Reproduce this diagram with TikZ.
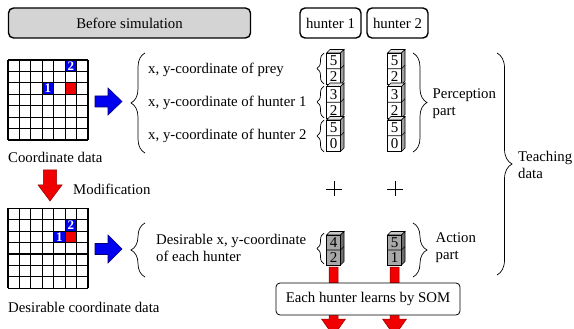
\documentclass[tikz,border=0pt]{standalone}
\usepackage{fontspec}
\setmainfont{Liberation Serif}
\usetikzlibrary{decorations.pathreplacing,calc}
\definecolor{boxgray}{HTML}{D4D4D4}
\definecolor{hblue}{HTML}{0000F0}
\definecolor{hnavy}{HTML}{000070}
\definecolor{hred}{HTML}{F00000}
\definecolor{dred}{HTML}{900000}
\definecolor{ptop}{HTML}{E6E6E6}
\definecolor{pside}{HTML}{A0A0A0}
\definecolor{afront}{HTML}{A8A8A8}
\definecolor{atop}{HTML}{C8C8C8}
\definecolor{aside}{HTML}{6E6E6E}
\newcommand{\cubepair}[9]{%
 \filldraw[fill=#8, line width=0.6pt] (#1,#2) -- ++(3.5,-3.5) -- ++(14,0) -- ++(-3.5,3.5) -- cycle;
 \filldraw[fill=#7, line width=0.6pt] ({#1+14},#2) -- ++(3.5,-3.5) -- ++(0,#3) -- ++(-3.5,3.5) -- cycle;
 \filldraw[fill=#6, line width=0.6pt] (#1,#2) rectangle ++(14,#3);
 \draw[line width=0.6pt] (#1,{#2+#3/2}) -- ++(14,0) -- ++(3.5,-3.5);
 \node[digit] (#9a) at ({#1+7},{#2+#3/4}) {#4};
 \node[digit] (#9b) at ({#1+7},{#2+3*#3/4}) {#5};
}
\begin{document}
\begin{tikzpicture}[x=1pt,y=-1pt,
  font=\fontsize{14.8}{17}\selectfont,
  tbox/.style={draw, line width=1.4pt, rounded corners=5pt, inner sep=0pt},
  txt/.style={anchor=west, inner sep=0pt},
  digit/.style={inner sep=0pt, font=\fontsize{15}{15}\selectfont},
  cellnum/.style={inner sep=0pt, text=white, font=\fontsize{13}{13}\selectfont\bfseries},
  gridline/.style={line width=1.1pt},
  brc/.style={decorate, decoration={brace, amplitude=#1}, line width=0.7pt},
  bluearrow/.style={fill=hblue, draw=hnavy, line width=0.6pt},
  redarrow/.style={fill=hred, draw=dred, line width=0.5pt}]
\useasboundingbox (0,0) rectangle (574,329);
\clip (0,0) rectangle (574,329);

% header boxes
\node[tbox, fill=boxgray, minimum width=242pt, minimum height=30pt] (before) at (129.5,23) {Before simulation};
\node[tbox, fill=white, minimum width=61pt, minimum height=30pt] (h1) at (330.5,23) {hunter 1};
\node[tbox, fill=white, minimum width=61pt, minimum height=30pt] (h2) at (397.5,23) {hunter 2};

% grid 1
\def\s{11.4286}
\begin{scope}[shift={(8,60)}]
  \fill[hblue] (5*\s,0) rectangle (6*\s,\s);
  \fill[hblue] (3*\s,2*\s) rectangle (4*\s,3*\s);
  \fill[hred] (5*\s,2*\s) rectangle (6*\s,3*\s);
  \foreach \i in {0,...,7} {
    \draw[gridline] ({\i*\s},0) -- ({\i*\s},80);
    \draw[gridline] (0,{\i*\s}) -- (80,{\i*\s});
  }
  \node[cellnum] (ga2) at (5.5*\s,0.5*\s) {2};
  \node[cellnum] (ga1) at (3.5*\s,2.5*\s) {1};
\end{scope}
\node[txt] (cd) at (8,157) {Coordinate data};

% grid 2
\begin{scope}[shift={(8,208.3)}]
  \fill[hblue] (5*\s,\s) rectangle (6*\s,2*\s);
  \fill[hblue] (4*\s,2*\s) rectangle (5*\s,3*\s);
  \fill[hred] (5*\s,2*\s) rectangle (6*\s,3*\s);
  \foreach \i in {0,...,7} {
    \draw[gridline] ({\i*\s},0) -- ({\i*\s},80);
    \draw[gridline] (0,{\i*\s}) -- (80,{\i*\s});
  }
  \node[cellnum] (gb2) at (5.5*\s,1.5*\s) {2};
  \node[cellnum] (gb1) at (4.5*\s,2.5*\s) {1};
\end{scope}
\node[txt] (dcd) at (8,307) {Desirable coordinate data};

% red modification arrow
\filldraw[redarrow] (43.3,170) -- (56.7,170) -- (56.7,185) -- (62,185) -- (50,201) -- (38,185) -- (43.3,185) -- cycle;
\node[txt] (mod) at (73,189) {Modification};

% blue arrows
\filldraw[bluearrow] (95,96) -- (108,96) -- (108,88) -- (122,101.5) -- (108,115) -- (108,107) -- (95,107) -- cycle;
\filldraw[bluearrow] (95,243.5) -- (108,243.5) -- (108,235) -- (122,249) -- (108,263) -- (108,254.5) -- (95,254.5) -- cycle;

% left braces and texts
\draw[brc=14pt] (145,153) -- (145,53);
\node[txt] (tprey) at (148,70) {x, y-coordinate of prey};
\node[txt] (th1) at (148,103) {x, y-coordinate of hunter 1};
\node[txt] (th2) at (148,136) {x, y-coordinate of hunter 2};
\draw[brc=14pt] (145,277) -- (145,223);
\node[txt, align=left] (tdes) at (156,248) {Desirable x, y-coordinate\\of each hunter};

% small braces
\draw[brc=7pt] (324,84) -- (324,53);
\draw[brc=7pt] (324,118) -- (324,86);
\draw[brc=7pt] (324,152) -- (324,120);
\draw[brc=7pt] (324,264) -- (324,233);

% perception cubes
\cubepair{326.5}{53}{31.5}{5}{2}{white}{pside}{ptop}{pa}
\cubepair{326.5}{86.5}{31.5}{3}{2}{white}{pside}{ptop}{pb}
\cubepair{326.5}{120}{31.5}{5}{0}{white}{pside}{ptop}{pc}
\cubepair{387.5}{53}{31.5}{5}{2}{white}{pside}{ptop}{qa}
\cubepair{387.5}{86.5}{31.5}{3}{2}{white}{pside}{ptop}{qb}
\cubepair{387.5}{120}{31.5}{5}{0}{white}{pside}{ptop}{qc}

% plus signs
\draw[line width=0.7pt] (326,189) -- (342,189) (334,181.5) -- (334,196.5);
\draw[line width=0.7pt] (387,189) -- (403,189) (395,181.5) -- (395,196.5);

% action cubes
\cubepair{326.5}{235}{30}{4}{2}{afront}{aside}{atop}{ra}
\cubepair{387.5}{235}{30}{5}{1}{afront}{aside}{atop}{sa}

% right braces
\draw[brc=14pt] (413,53) -- (413,152);
\node[txt, align=left] (perc) at (432.5,103.5) {Perception\\part};
\draw[brc=14pt] (413,223) -- (413,277);
\node[txt, align=left] (act) at (435.5,247.5) {Action\\part};
\draw[brc=15pt] (497,53) -- (497,275);
\node[txt, align=left] (teach) at (518,164.5) {Teaching\\data};

% red arrows through SOM box
\filldraw[redarrow] (329,267) -- (338,267) -- (338,319) -- (345.5,319) -- (333.5,336) -- (321.5,319) -- (329,319) -- cycle;
\filldraw[redarrow] (390,267) -- (399,267) -- (399,319) -- (406.5,319) -- (394.5,336) -- (382.5,319) -- (390,319) -- cycle;
\node[draw, fill=white, line width=0.8pt, rounded corners=4pt, minimum width=184pt, minimum height=32pt, inner sep=0pt] (som) at (368,299) {Each hunter learns by SOM};
\end{tikzpicture}
\end{document}
